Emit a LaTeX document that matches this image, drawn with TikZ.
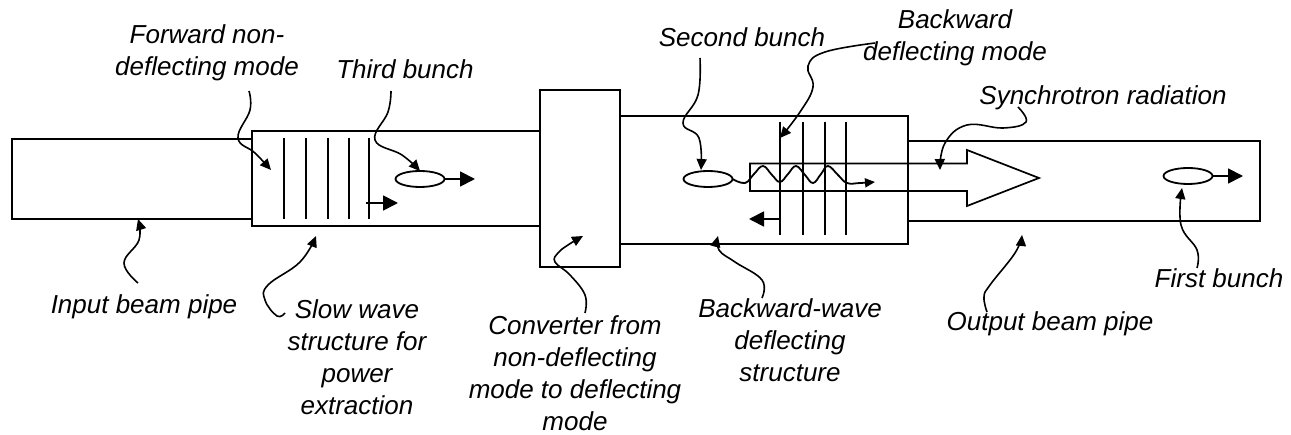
\documentclass[tikz,border=0pt]{standalone}
\usepackage{fontspec}
\setmainfont{Liberation Sans}
\usetikzlibrary{arrows.meta,shapes.geometric}
\tikzset{
  x=1pt,y=-1pt,
  wall/.style={draw=black,line width=2.2pt,line join=miter},
  boxwall/.style={wall,inner sep=0pt,outer sep=0pt,anchor=north west},
  plate/.style={draw=black,line width=1.8pt},
  thin line/.style={draw=black,line width=1.7pt},
  bunch/.style={draw=black,line width=1.8pt,ellipse,minimum width=49pt,minimum height=16pt,inner sep=0pt,outer sep=0pt,fill=white},
  bigarrow/.style={draw=black,line width=1.8pt,-{Triangle[length=15pt,width=15pt]}},
  callout/.style={draw=black,line width=1.6pt,-{Triangle[length=11pt,width=10pt]}},
  lbl/.style={font=\fontsize{26}{32}\selectfont\itshape,align=center,inner sep=0pt,text=black},
}
\begin{document}
\begin{tikzpicture}
\useasboundingbox (0,0) rectangle (1291,435);
% walls
\node[boxwall,minimum width=240pt,minimum height=80pt] (input) at (12,139) {};
\node[boxwall,fill=white,minimum width=288pt,minimum height=95pt] (slow) at (252,131) {};
\node[boxwall,minimum width=352pt,minimum height=80pt] (output) at (908,141) {};
\node[boxwall,fill=white,minimum width=288pt,minimum height=128pt] (back) at (620,116) {};
\node[boxwall,fill=white,minimum width=80pt,minimum height=177pt] (conv) at (540,90) {};
% forward plates
\foreach \px in {284,306,328,349,369}{\draw[plate] (\px,138) -- (\px,219);}
% synchrotron block
\draw[thin line] (967,163.5) -- (750,163.5) -- (750,191) -- (967,191) -- (967,206) -- (1039,178) -- (967,150) -- cycle;
% backward plates
\draw[wall] (780,122) -- (780,235);
\foreach \px in {803,825,846}{\draw[plate] (\px,122) -- (\px,235);}
% bunches
\node[bunch] (b3) at (420,179) {};
\node[bunch] (b2) at (708,179) {};
\node[bunch] (b1) at (1188,176) {};
\coordinate (e3) at (475,179);
\coordinate (e1) at (1243,176);
\coordinate (fs) at (366,203);
\coordinate (fe) at (398,203);
\coordinate (bs) at (780,219);
\coordinate (be) at (749,219);
\coordinate (we) at (875,182);
\draw[bigarrow] (b3.east) -- (e3);
\draw[bigarrow] (b1.east) -- (e1);
\draw[bigarrow] (fs) -- (fe);
\draw[bigarrow] (bs) -- (be);
% wave
\draw[draw=black,line width=1.8pt,-{Triangle[length=10pt,width=9pt]}] plot[smooth,tension=0.7] coordinates {(b2.east) (745,183) (754,174) (763,166) (772,175) (780,182) (788,174) (796,166) (805,175) (813,183) (821,174) (828,166) (838,175) (847,183) (860,183) (we)};
% labels
\node[lbl] (lf) at (207,53) {Forward non-\\deflecting mode};
\node[lbl] (l3) at (405,69) {Third bunch};
\node[lbl] (l2) at (742,37) {Second bunch};
\node[lbl] (lb) at (955,38) {Backward\\deflecting mode};
\node[lbl] (ls) at (1103,98) {Synchrotron radiation};
\node[lbl] (li) at (144,307) {Input beam pipe};
\node[lbl] (lw) at (357,357) {Slow wave\\structure for\\power\\extraction};
\node[lbl] (lc) at (575,373.5) {Converter from\\non-deflecting\\mode to deflecting\\mode};
\node[lbl] (ld) at (790,340) {Backward-wave\\deflecting\\structure};
\node[lbl] (lo) at (1050,324) {Output beam pipe};
\node[lbl] (l1) at (1219,278) {First bunch};
% callout ends
\coordinate (cf) at (249,91);  \coordinate (tf) at (271,170);
\coordinate (c3) at (391,91);
\coordinate (c2) at (700,58);  \coordinate (t2) at (701,170);
\coordinate (cb) at (875,43);  \coordinate (tb) at (780,138);
\coordinate (cs) at (1018,107);\coordinate (ts) at (940,170);
\coordinate (ci) at (138,283); \coordinate (ti) at (138,219);
\coordinate (cw) at (285,313); \coordinate (tw) at (316,236);
\coordinate (cc) at (585,313); \coordinate (tc) at (583,236);
\coordinate (cd) at (762,298); \coordinate (td) at (718,236);
\coordinate (co) at (987,312); \coordinate (to) at (1022,235);
\coordinate (c1) at (1197,268);\coordinate (t1) at (1182,188);
\draw[callout] plot[smooth,tension=0.7] coordinates {(cf) (250,110) (238,138) (255,153) (tf)};
\draw[callout] plot[smooth,tension=0.7] coordinates {(c3) (388,112) (375,140) (402,155) (b3.north)};
\draw[callout] plot[smooth,tension=0.7] coordinates {(c2) (698,95) (683,123) (699,138) (t2)};
\draw[callout] plot[smooth,tension=0.7] coordinates {(cb) (825,52) (808,66) (813,87) (800,112) (tb)};
\draw[callout] plot[smooth,tension=0.7] coordinates {(cs) (1026,122) (1003,128) (967,125) (945,143) (ts)};
\draw[callout] plot[smooth,tension=0.7] coordinates {(ci) (124,263) (139,240) (ti)};
\draw[callout] plot[smooth,tension=0.7] coordinates {(cw) (277,316) (265,300) (268,285) (300,262) (tw)};
\draw[callout] plot[smooth,tension=0.7] coordinates {(cc) (585,295) (570,275) (555,262) (558,253) (568,245) (tc)};
\draw[callout] plot[smooth,tension=0.7] coordinates {(cd) (762,280) (735,262) (719,250) (td)};
\draw[callout] plot[smooth,tension=0.7] coordinates {(co) (984,297) (990,285) (1015,253) (to)};
\draw[callout] plot[smooth,tension=0.7] coordinates {(c1) (1197,250) (1181,225) (t1)};
\end{tikzpicture}
\end{document}
